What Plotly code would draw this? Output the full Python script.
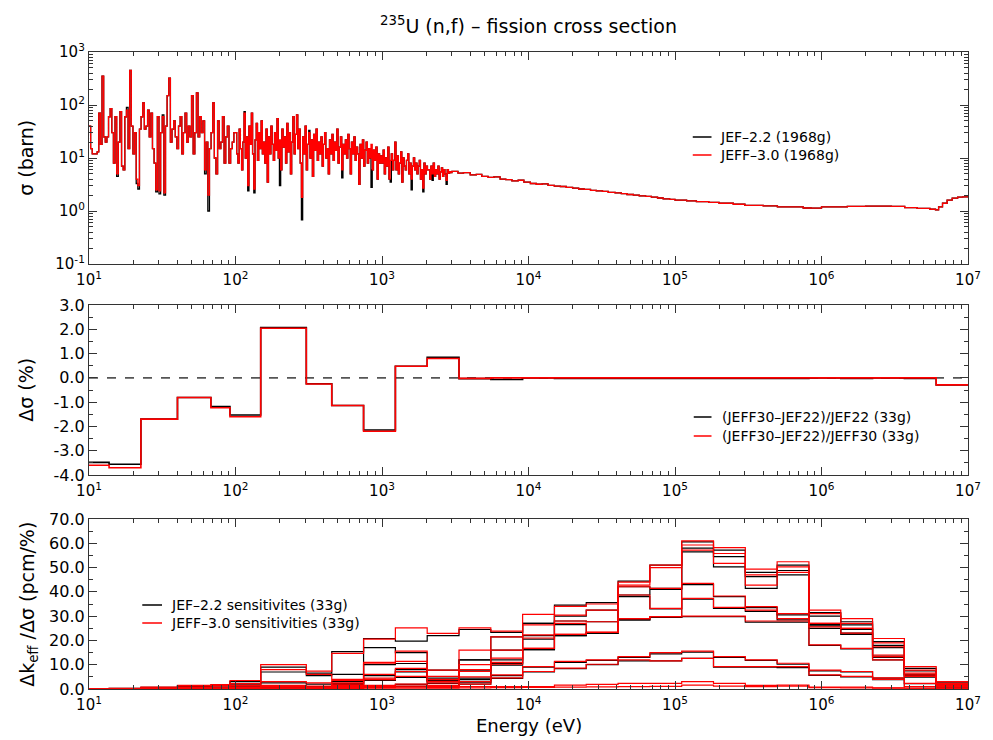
import numpy as np
import plotly.graph_objects as go

# ======================= DATA =======================
# --- Top panel: 235U(n,f) cross section (barn), resonance region 10 eV - 3 keV ---
res_10_100 = [40, 15, 12, 12, 12, 13, 70, 18, 350, 25,
              20, 25, 60, 85, 30, 8, 60, 5, 20, 75,
              7, 6, 60, 80, 15, 450, 40, 12, 30, 4,
              3, 35, 60, 110, 35, 40, 80, 25, 70, 15,
              8, 2.5, 60, 2.4, 30, 60, 2.2, 40, 150, 320,
              20, 35, 50, 25, 15, 40, 60, 12, 30, 70,
              20, 40, 25, 150, 12, 30, 170, 25, 60, 30,
              50, 6, 20, 2.0, 15, 30, 110, 10, 5, 50,
              15, 20, 60, 8, 25, 40, 8, 15, 20, 30]
res_100_1000 = [30, 12, 8, 35, 15, 6, 20, 70, 10, 25,
                3, 40, 18, 70, 12, 2.6, 22, 45, 9, 30,
                15, 50, 12, 20, 8, 35, 3.5, 25, 12, 40,
                18, 9, 30, 14, 55, 10, 22, 6, 35, 16,
                25, 8, 45, 13, 30, 5, 20, 60, 12, 28,
                65, 15, 35, 8, 1.8, 25, 12, 40, 6, 18,
                30, 10, 22, 4.5, 28, 14, 35, 9, 20, 12,
                25, 7, 18, 30, 10, 15, 5, 22, 12, 28,
                9, 20, 14, 35, 8, 16, 25, 6, 18, 12,
                22, 10, 28, 15, 5, 20, 12, 25, 9, 16,
                12, 3.2, 18, 10, 22, 7, 14, 20, 8, 15,
                10, 18, 6, 14, 9, 16, 4, 12, 8, 11]
res_1000_3000 = [8, 14, 5, 10, 7, 16, 4, 9, 12, 6,
                 9, 20, 6, 11, 5, 8, 13, 3.5, 10, 7,
                 6, 9, 12, 5, 8, 4, 7, 10, 6, 8,
                 5, 7, 9, 4, 6, 2.7, 8, 5, 7, 6,
                 6, 4, 7, 5, 8, 4.5, 6, 5, 7, 4,
                 5.5, 6.5, 4.5, 6, 5, 3.8, 6, 5.2, 5.5, 5.3]
# JEF-2.2 values that differ from JEFF-3.0 (index: value)
jef22_diff_10_100 = {17: 4.5, 23: 90, 29: 3.3, 30: 2.6, 41: 2.3, 43: 2.1,
                     45: 65, 46: 2.0, 71: 5.0, 73: 1.0}
jef22_diff_100_1000 = {7: 75, 10: 2.4, 15: 2.2, 36: 3.0, 54: 0.68,
                       60: 33, 87: 4.2, 111: 2.8}
jef22_diff_1000_3000 = {7: 3.5, 25: 2.5, 35: 2.3, 43: 3.8, 55: 3.2}

# smooth (unresolved / fast) region
smooth_E = [3.0e3, 3.3e3, 3.6e3, 4.0e3, 4.4e3, 4.8e3, 5.3e3, 5.8e3, 6.4e3, 7.0e3,
            7.7e3, 8.5e3, 9.3e3, 1.03e4, 1.13e4, 1.24e4, 1.36e4, 1.5e4, 1.65e4, 1.81e4,
            2.0e4, 2.2e4, 2.4e4, 2.65e4, 2.9e4, 3.2e4, 3.5e4, 3.9e4, 4.3e4, 4.7e4,
            5.2e4, 5.7e4, 6.3e4, 6.9e4, 7.6e4, 8.3e4, 9.2e4, 1.0e5, 1.2e5, 1.4e5,
            1.7e5, 2.0e5, 2.5e5, 3.0e5, 4.0e5, 5.0e5, 6.0e5, 7.5e5, 8.5e5, 1.0e6,
            1.5e6, 2.0e6, 2.5e6, 3.0e6, 3.7e6, 4.5e6, 5.5e6, 6.0e6, 6.3e6, 6.7e6,
            7.2e6, 7.8e6, 8.5e6, 9.2e6, 1.0e7]
smooth_sig = [5.6, 5.2, 5.3, 4.8, 4.9, 4.5, 4.3, 4.4, 4.0, 3.9,
              3.7, 3.8, 3.5, 3.3, 3.2, 3.25, 3.05, 2.95, 2.9, 2.8,
              2.7, 2.6, 2.55, 2.45, 2.4, 2.35, 2.25, 2.2, 2.12, 2.05,
              2.0, 1.93, 1.88, 1.82, 1.76, 1.7, 1.66, 1.6, 1.55, 1.5,
              1.45, 1.4, 1.34, 1.28, 1.25, 1.2, 1.2, 1.14, 1.13, 1.2,
              1.22, 1.24, 1.24, 1.22, 1.16, 1.12, 1.08, 1.05, 1.2, 1.4,
              1.6, 1.75, 1.82, 1.84, 1.8]

# --- 33-group structure (eV), from 10 eV to 10 MeV ---
edges33 = [10, 13.71, 22.603, 40.169, 67.904, 91.661, 148.63, 304.325, 453.999,
           748.518, 1234.1, 2034.68, 3354.63, 5530.84, 9118.82, 15034.4, 24787.5,
           40867.7, 67379.4, 111090, 183156, 301974, 497871, 820850, 1353350,
           2231300, 3678790, 6065310, 1e7]

# --- Middle panel: relative difference (%) ---
dsig_rel_jef22 = [-3.48, -3.56, -1.70, -0.81, -1.18, -1.53, 2.07, -0.24, -1.14, -2.15,
                  0.48, 0.85, -0.03, -0.07, 0.0, -0.02, -0.02, -0.02, -0.02, -0.02,
                  -0.02, -0.02, -0.02, 0.0, -0.02, 0.0, -0.02, -0.29]
dsig_rel_jeff30 = [-3.60, -3.70, -1.70, -0.81, -1.23, -1.60, 2.04, -0.25, -1.14, -2.20,
                   0.48, 0.80, -0.02, 0.0, 0.0, 0.0, 0.0, 0.0, 0.0, 0.0,
                   0.0, 0.0, 0.0, 0.0, 0.0, 0.0, 0.0, -0.29]

# --- Bottom panel: k-eff sensitivities (pcm/%) per benchmark ---
sens_jef22 = [
    [0.1, 0.3, 0.7, 1.3, 1.6, 3.0, 9.0, 6.5, 15.4, 20.8, 19.7, 22.0, 24.5, 23.3, 27.0, 34.5, 35.6, 44.4, 51.0, 60.6, 57.2, 48.0, 51.0, 31.5, 27.7, 19.5, 8.5, 2.5],
    [0.0, 0.2, 0.5, 1.1, 1.3, 2.0, 7.0, 5.5, 6.0, 17.0, 15.0, 7.8, 12.0, 21.5, 27.0, 30.0, 32.5, 42.1, 41.4, 58.0, 54.5, 46.3, 48.8, 30.0, 26.4, 18.0, 7.5, 2.0],
    [0.0, 0.1, 0.3, 0.5, 0.7, 1.2, 2.5, 2.0, 3.0, 10.0, 10.5, 4.5, 12.0, 16.0, 22.0, 28.0, 27.7, 38.7, 41.0, 56.5, 50.3, 41.4, 47.0, 26.0, 23.0, 17.0, 6.0, 1.8],
    [0.0, 0.0, 0.2, 0.3, 0.4, 0.8, 1.3, 1.0, 2.2, 5.5, 8.0, 3.5, 7.5, 12.0, 20.5, 26.5, 23.0, 38.0, 33.0, 43.0, 38.0, 33.5, 30.5, 26.5, 24.5, 13.5, 5.5, 1.5],
    [0.0, 0.0, 0.1, 0.2, 0.3, 0.5, 0.9, 0.7, 1.8, 4.0, 7.0, 3.0, 3.9, 10.5, 16.2, 22.0, 23.0, 28.5, 29.5, 37.0, 33.2, 32.0, 28.5, 25.0, 22.5, 13.0, 5.0, 1.5],
    [0.0, 0.0, 0.1, 0.1, 0.2, 0.4, 0.7, 0.5, 1.3, 3.5, 4.8, 2.3, 4.5, 9.8, 16.2, 22.0, 23.0, 28.5, 29.5, 29.8, 29.8, 27.5, 27.5, 18.0, 16.5, 12.0, 5.0, 1.5],
    [0.0, 0.0, 0.0, 0.1, 0.1, 0.2, 0.4, 0.4, 1.0, 1.4, 1.9, 1.4, 2.8, 5.5, 9.0, 11.0, 11.8, 13.0, 14.5, 15.2, 13.0, 11.8, 10.2, 7.5, 7.0, 4.5, 2.2, 1.0],
    [0.0, 0.0, 0.0, 0.0, 0.1, 0.1, 0.3, 0.3, 0.6, 1.0, 1.1, 1.0, 2.0, 4.4, 7.0, 8.4, 10.0, 11.6, 11.6, 12.6, 9.0, 9.0, 8.8, 5.6, 5.0, 3.8, 1.0, 0.5],
]
sens_jeff30 = [
    [0.1, 0.3, 0.8, 1.5, 1.8, 3.5, 10.0, 7.4, 14.7, 20.5, 25.2, 22.9, 25.2, 23.8, 30.7, 34.0, 35.0, 44.0, 51.0, 61.0, 58.2, 49.4, 52.4, 32.5, 29.0, 20.8, 9.2, 3.0],
    [0.0, 0.2, 0.5, 1.2, 1.4, 2.2, 8.0, 6.0, 4.0, 11.0, 15.6, 7.8, 16.0, 21.5, 26.4, 30.4, 32.5, 42.8, 50.0, 59.3, 55.8, 47.0, 50.3, 31.0, 27.0, 19.0, 7.8, 2.3],
    [0.0, 0.1, 0.3, 0.6, 0.8, 1.5, 3.0, 2.5, 3.5, 10.6, 11.4, 5.2, 10.0, 16.0, 22.3, 28.0, 27.7, 42.1, 41.4, 57.2, 51.7, 42.8, 48.0, 27.0, 25.0, 17.4, 6.5, 2.0],
    [0.0, 0.0, 0.2, 0.4, 0.5, 0.9, 1.5, 1.2, 2.5, 6.0, 8.5, 4.0, 8.0, 12.7, 21.0, 27.0, 23.3, 38.7, 33.2, 43.5, 38.3, 33.9, 31.0, 27.0, 25.0, 14.0, 5.8, 1.6],
    [0.0, 0.0, 0.1, 0.2, 0.3, 0.6, 1.0, 0.8, 2.0, 4.5, 7.2, 3.1, 7.2, 11.0, 16.7, 22.5, 23.3, 29.0, 29.8, 37.3, 33.6, 32.5, 29.0, 25.6, 23.0, 13.3, 5.2, 1.6],
    [0.0, 0.0, 0.1, 0.1, 0.2, 0.4, 0.8, 0.6, 1.5, 3.9, 5.2, 2.5, 5.0, 10.2, 16.7, 22.5, 23.3, 29.0, 29.8, 30.0, 30.0, 28.0, 28.0, 18.2, 16.7, 12.0, 5.2, 1.6],
    [0.0, 0.0, 0.0, 0.1, 0.1, 0.2, 0.4, 0.4, 1.0, 1.5, 2.0, 1.5, 3.0, 5.8, 9.2, 11.4, 12.0, 13.3, 15.0, 15.6, 13.3, 12.0, 10.6, 7.8, 7.2, 4.6, 2.3, 1.0],
    [0.0, 0.0, 0.0, 0.0, 0.1, 0.1, 0.3, 0.3, 0.6, 1.0, 1.2, 1.0, 2.0, 4.6, 7.2, 8.6, 10.2, 12.0, 11.6, 12.6, 9.2, 9.2, 9.2, 5.8, 5.2, 4.0, 1.0, 0.5],
    [0.0, 0.0, 0.0, 0.0, 0.0, 0.1, 0.2, 0.2, 0.4, 0.6, 0.8, 0.6, 1.0, 1.0, 1.0, 1.6, 1.9, 2.3, 2.3, 3.0, 2.3, 1.5, 1.6, 0.8, 0.8, 0.5, 0.3, 0.2],
    [0.0, 0.0, 0.0, 0.0, 0.0, 0.0, 0.1, 0.1, 0.2, 0.3, 0.4, 0.4, 0.5, 0.6, 0.7, 0.8, 0.9, 1.0, 1.1, 1.6, 1.2, 1.0, 1.2, 0.6, 0.5, 0.4, 0.3, 1.0],
]

x_tick_vals = [1e1, 1e2, 1e3, 1e4, 1e5, 1e6, 1e7]
x_tick_text = ["10<sup>1</sup>", "10<sup>2</sup>", "10<sup>3</sup>", "10<sup>4</sup>",
               "10<sup>5</sup>", "10<sup>6</sup>", "10<sup>7</sup>"]
y1_tick_vals = [0.1, 1, 10, 100, 1000]
y1_tick_text = ["10<sup>-1</sup>", "10<sup>0</sup>", "10<sup>1</sup>", "10<sup>2</sup>", "10<sup>3</sup>"]
y2_tick_vals = [-4, -3, -2, -1, 0, 1, 2, 3]
y3_tick_vals = [0, 10, 20, 30, 40, 50, 60, 70]

# ======================= BUILD =======================
# equal-lethargy group boundaries of the fine (1968 g) structure in the resonance range
e_a = np.logspace(1, 2, len(res_10_100) + 1)[:-1]
e_b = np.logspace(2, 3, len(res_100_1000) + 1)[:-1]
e_c = np.logspace(3, np.log10(3000), len(res_1000_3000) + 1)[:-1]


def apply_diff(vals, diff):
    out = list(vals)
    for k, v in diff.items():
        out[k] = v
    return out


x_top = list(e_a) + list(e_b) + list(e_c) + smooth_E
y_jeff30 = res_10_100 + res_100_1000 + res_1000_3000 + smooth_sig
y_jef22 = (apply_diff(res_10_100, jef22_diff_10_100) + apply_diff(res_100_1000, jef22_diff_100_1000)
           + apply_diff(res_1000_3000, jef22_diff_1000_3000) + smooth_sig)


def step_y(vals):
    return list(vals) + [vals[-1]]


FONT = "DejaVu Sans"
RED = "#ff0000"
BLACK = "#000000"

# plot area in pixels
L, R, T, B = 89, 980, 52, 689
W, H = R - L, B - T


def px(xp):
    return (xp - L) / W


def py(yp):
    return (B - yp) / H


fig = go.Figure()

# top panel
fig.add_trace(go.Scatter(x=x_top, y=y_jef22, mode="lines", line=dict(color=BLACK, width=1.3, shape="hv"),
                         xaxis="x", yaxis="y", showlegend=False, hoverinfo="skip"))
fig.add_trace(go.Scatter(x=x_top, y=y_jeff30, mode="lines", line=dict(color=RED, width=1.3, shape="hv"),
                         xaxis="x", yaxis="y", showlegend=False, hoverinfo="skip"))

# middle panel
fig.add_trace(go.Scatter(x=edges33, y=step_y(dsig_rel_jef22), mode="lines",
                         line=dict(color=BLACK, width=1.6, shape="hv"),
                         xaxis="x2", yaxis="y2", showlegend=False, hoverinfo="skip"))
fig.add_trace(go.Scatter(x=edges33, y=step_y(dsig_rel_jeff30), mode="lines",
                         line=dict(color=RED, width=1.6, shape="hv"),
                         xaxis="x2", yaxis="y2", showlegend=False, hoverinfo="skip"))

# bottom panel
for s in sens_jef22:
    fig.add_trace(go.Scatter(x=edges33, y=step_y(s), mode="lines",
                             line=dict(color=BLACK, width=1.2, shape="hv"),
                             xaxis="x3", yaxis="y3", showlegend=False, hoverinfo="skip"))
for s in sens_jeff30:
    fig.add_trace(go.Scatter(x=edges33, y=step_y(s), mode="lines",
                             line=dict(color=RED, width=1.2, shape="hv"),
                             xaxis="x3", yaxis="y3", showlegend=False, hoverinfo="skip"))

minor_x = [m * 10 ** k for k in range(1, 7) for m in range(2, 10)]
minor_y1 = [m * 10 ** k for k in range(-1, 3) for m in range(2, 10)]

axc = dict(showline=True, linecolor="#333333", linewidth=1.3, mirror="ticks", ticks="inside",
           ticklen=8, tickwidth=1.2, tickcolor="#333333", showgrid=False, zeroline=False)


def xaxis(domain_anchor):
    d = dict(axc)
    d.update(type="log", range=[1, 7], tickmode="array", tickvals=x_tick_vals, ticktext=x_tick_text,
             tickfont=dict(family=FONT, size=15, color="black"), anchor=domain_anchor,
             domain=[0, 1], ticklabelstandoff=2,
             minor=dict(ticks="inside", ticklen=4, tickwidth=1, tickcolor="#333333",
                        tickvals=minor_x, showgrid=False))
    return d


y1 = dict(axc)
y1.update(type="log", range=[-1, 3], tickmode="array", tickvals=y1_tick_vals, ticktext=y1_tick_text,
          tickfont=dict(family=FONT, size=15, color="black"), domain=[py(264), 1], anchor="x",
          minor=dict(ticks="inside", ticklen=4, tickwidth=1, tickcolor="#333333",
                     tickvals=minor_y1, showgrid=False))
y2 = dict(axc)
y2.update(range=[-4, 3], tickmode="array", tickvals=y2_tick_vals,
          ticktext=["%.1f" % v for v in y2_tick_vals],
          tickfont=dict(family=FONT, size=16, color="black"), domain=[py(475), py(305)], anchor="x2",
          minor=dict(ticks="inside", ticklen=4, tickwidth=1, tickcolor="#333333", dtick=0.5, showgrid=False))
y3 = dict(axc)
y3.update(range=[0, 70], tickmode="array", tickvals=y3_tick_vals,
          ticktext=["%.1f" % v for v in y3_tick_vals],
          tickfont=dict(family=FONT, size=16, color="black"), domain=[0, py(519)], anchor="x3",
          minor=dict(ticks="inside", ticklen=4, tickwidth=1, tickcolor="#333333", dtick=5, showgrid=False))

shapes = [dict(type="line", xref="x2 domain", yref="y2", x0=0, x1=1, y0=0, y1=0, layer="below",
               line=dict(color="#555555", width=1.6, dash="dash"))]

annotations = [
    dict(text="<sup>235</sup>U (n,f) \u2013 fission cross section", x=0.5, y=py(25), xref="paper", yref="paper",
         showarrow=False, font=dict(family=FONT, size=19, color="black"), xanchor="center", yanchor="middle"),
    dict(text="\u03c3 (barn)", x=px(25), y=py(158), xref="paper", yref="paper", textangle=-90,
         showarrow=False, font=dict(family=FONT, size=19, color="black"), xanchor="center", yanchor="middle"),
    dict(text="\u0394\u03c3 (%)", x=px(25), y=py(390), xref="paper", yref="paper", textangle=-90,
         showarrow=False, font=dict(family=FONT, size=19, color="black"), xanchor="center", yanchor="middle"),
    dict(text="\u0394k<sub>eff</sub> /\u0394\u03c3 (pcm/%)", x=px(27), y=py(604), xref="paper", yref="paper",
         textangle=-90, showarrow=False, font=dict(family=FONT, size=19, color="black"),
         xanchor="center", yanchor="middle"),
    dict(text="Energy (eV)", x=px(535), y=py(725), xref="paper", yref="paper",
         showarrow=False, font=dict(family=FONT, size=18, color="black"), xanchor="center", yanchor="middle"),
]

legend_items = [
    (701, 720, 727, 137, BLACK, "JEF\u20132.2 (1968g)"),
    (701, 720, 727, 155, RED, "JEFF\u20133.0 (1968g)"),
    (702, 720, 729, 417, BLACK, "(JEFF30\u2013JEF22)/JEF22 (33g)"),
    (702, 720, 729, 436, RED, "(JEFF30\u2013JEF22)/JEFF30 (33g)"),
    (143, 163, 170, 605, BLACK, "JEF\u20132.2 sensitivites (33g)"),
    (143, 163, 170, 623, RED, "JEFF\u20133.0 sensitivities (33g)"),
]
for x0, x1, xt, yy, col, txt in legend_items:
    shapes.append(dict(type="line", xref="paper", yref="paper", x0=px(x0), x1=px(x1), y0=py(yy), y1=py(yy),
                       line=dict(color=col, width=1.5)))
    annotations.append(dict(text=txt, x=px(xt), y=py(yy), xref="paper", yref="paper", showarrow=False,
                            font=dict(family=FONT, size=14, color="black"), xanchor="left", yanchor="middle"))

fig.update_layout(
    width=993, height=740,
    margin=dict(l=L, r=993 - R, t=T, b=740 - B),
    paper_bgcolor="white", plot_bgcolor="white",
    xaxis=xaxis("y"), xaxis2=xaxis("y2"), xaxis3=xaxis("y3"),
    yaxis=y1, yaxis2=y2, yaxis3=y3,
    shapes=shapes, annotations=annotations,
    showlegend=False,
    font=dict(family=FONT, color="black"),
)

fig.write_html("out.html")
